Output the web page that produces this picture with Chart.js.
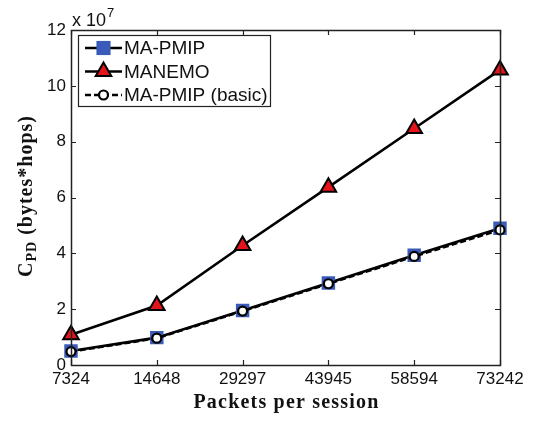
<!DOCTYPE html>
<html>
<head>
<meta charset="utf-8">
<script src="https://cdn.jsdelivr.net/npm/chart.js@4"></script>
<style>
html,body{margin:0;padding:0;background:#fff;}
#wrap{width:535px;height:421px;position:relative;}
</style>
</head>
<body>
<div id="wrap"><canvas id="c" width="535" height="421"></canvas></div>
<script>
// ---- data (values in units of 10^7) ----
const categories = ['7324', '14648', '29297', '43945', '58594', '73242'];
const maPmip      = [0.50, 0.98, 1.95, 2.94, 3.93, 4.90];
const manemo      = [1.08, 2.13, 4.28, 6.37, 8.47, 10.57];
const maPmipBasic = [0.48, 0.96, 1.93, 2.91, 3.89, 4.84];
const yTicks = [0, 2, 4, 6, 8, 10, 12];
const seriesNames = ['MA-PMIP', 'MANEMO', 'MA-PMIP (basic)'];
const xTitle = 'Packets per session';
const exponentBase = 'x 10';
const exponentPow = '7';

const SANS = 'Arial, "Liberation Sans", Helvetica, sans-serif';
const SERIF = '"Liberation Serif", "Times New Roman", serif';

const framePlugin = {
  id: 'frame',
  afterDatasetsDraw(chart) {
    const ctx = chart.ctx, a = chart.chartArea;
    const xs = chart.scales.x, ys = chart.scales.y;
    ctx.save();
    ctx.strokeStyle = '#222';
    ctx.lineWidth = 1.2;
    // ticks inward on all 4 sides
    ctx.beginPath();
    xs.ticks.forEach((t, i) => {
      const px = Math.round(xs.getPixelForTick(i)) + 0.5;
      ctx.moveTo(px, a.bottom); ctx.lineTo(px, a.bottom - 5);
      ctx.moveTo(px, a.top); ctx.lineTo(px, a.top + 5);
    });
    ys.ticks.forEach((t, i) => {
      const py = Math.round(ys.getPixelForTick(i)) + 0.5;
      ctx.moveTo(a.left, py); ctx.lineTo(a.left + 5, py);
      ctx.moveTo(a.right, py); ctx.lineTo(a.right - 5, py);
    });
    ctx.stroke();
    ctx.lineWidth = 1.5;
    ctx.strokeRect(Math.round(a.left) + 0.5, Math.round(a.top) + 0.5,
                   Math.round(a.right - a.left), Math.round(a.bottom - a.top));

    // exponent label
    ctx.fillStyle = '#111';
    ctx.textBaseline = 'alphabetic';
    ctx.textAlign = 'left';
    ctx.font = '18px ' + SANS;
    ctx.fillText(exponentBase, a.left + 1, a.top - 4);
    const w = ctx.measureText(exponentBase).width;
    ctx.font = '13px ' + SANS;
    ctx.fillText(exponentPow, a.left + 2 + w, a.top - 13);

    // x title
    ctx.font = 'bold 20px ' + SERIF;
    ctx.letterSpacing = '1.2px';
    ctx.textAlign = 'center';
    ctx.textBaseline = 'middle';
    ctx.fillText(xTitle, (a.left + a.right) / 2 + 1, 403);

    // y title with subscript
    ctx.save();
    ctx.translate(25, 196);
    ctx.rotate(-Math.PI / 2);
    ctx.letterSpacing = '1px';
    const partC = 'C', partSub = 'PD', partRest = ' (bytes*hops)';
    ctx.font = 'bold 20px ' + SERIF;
    const wC = ctx.measureText(partC).width;
    const wR = ctx.measureText(partRest).width;
    ctx.font = 'bold 14px ' + SERIF;
    const wS = ctx.measureText(partSub).width;
    let x0 = -(wC + wS + wR) / 2;
    ctx.textAlign = 'left';
    ctx.textBaseline = 'alphabetic';
    ctx.font = 'bold 20px ' + SERIF;
    ctx.fillText(partC, x0, 7);
    ctx.font = 'bold 14px ' + SERIF;
    ctx.fillText(partSub, x0 + wC, 11);
    ctx.font = 'bold 20px ' + SERIF;
    ctx.fillText(partRest, x0 + wC + wS, 7);
    ctx.restore();

    // legend
    const lx = 78, ly = 35, lw = 192, lh = 71;
    ctx.letterSpacing = '0px';
    ctx.fillStyle = '#fff';
    ctx.fillRect(lx, ly, lw, lh);
    ctx.lineWidth = 1.2;
    ctx.strokeStyle = '#222';
    ctx.strokeRect(lx + 0.5, ly + 0.5, lw, lh);
    chart.data.datasets.forEach((ds, i) => {
      const yy = ly + 13 + i * 23.5;
      ctx.save();
      ctx.strokeStyle = ds.borderColor;
      ctx.lineWidth = ds.borderWidth;
      ctx.setLineDash(ds.borderDash || []);
      ctx.beginPath();
      ctx.moveTo(85, yy); ctx.lineTo(122, yy);
      ctx.stroke();
      ctx.setLineDash([]);
      ctx.fillStyle = ds.pointBackgroundColor;
      ctx.strokeStyle = ds.pointBorderColor;
      ctx.lineWidth = ds.pointBorderWidth;
      Chart.helpers.drawPoint(ctx, {
        pointStyle: ds.pointStyle, rotation: 0,
        radius: ds.legendRadius, borderWidth: ds.pointBorderWidth
      }, 103.5, yy);
      ctx.restore();
      ctx.fillStyle = '#111';
      ctx.font = '19px ' + SANS;
      ctx.textAlign = 'left';
      ctx.textBaseline = 'middle';
      ctx.fillText(ds.label, 124, yy + 1);
    });
    ctx.restore();
  }
};

new Chart(document.getElementById('c'), {
  type: 'line',
  data: {
    labels: categories,
    datasets: [
      {
        label: seriesNames[0], data: maPmip,
        borderColor: '#000', borderWidth: 2.6,
        pointStyle: 'rect', pointRadius: 9.5, legendRadius: 10,
        pointBackgroundColor: '#3a5bb8', pointBorderColor: '#3a5bb8', pointBorderWidth: 0,
        tension: 0, order: 3
      },
      {
        label: seriesNames[1], data: manemo,
        borderColor: '#000', borderWidth: 2.6,
        pointStyle: 'triangle', pointRadius: 9, legendRadius: 9,
        pointBackgroundColor: '#e3141b', pointBorderColor: '#000', pointBorderWidth: 2,
        tension: 0, order: 1
      },
      {
        label: seriesNames[2], data: maPmipBasic,
        borderColor: '#000', borderWidth: 2.6, borderDash: [6, 3],
        pointStyle: 'circle', pointRadius: 4.5, legendRadius: 4.5,
        pointBackgroundColor: '#fff', pointBorderColor: '#000', pointBorderWidth: 2.2,
        tension: 0, order: 2
      }
    ]
  },
  options: {
    responsive: false,
    animation: false,
    devicePixelRatio: 1,
    layout: { padding: { left: 0, right: 35, top: 30, bottom: 0 } },
    plugins: { legend: { display: false }, tooltip: { enabled: false } },
    elements: { point: { hoverRadius: 0 } },
    scales: {
      x: {
        type: 'category',
        offset: false,
        grid: { display: false, drawTicks: false },
        border: { display: false },
        ticks: { color: '#111', font: { size: 17, family: SANS }, padding: 4, maxRotation: 0, autoSkip: false },
        afterFit(s) { s.height = 56; }
      },
      y: {
        min: 0, max: 12,
        afterBuildTicks(s) { s.ticks = yTicks.map(v => ({ value: v })); },
        grid: { display: false, drawTicks: false },
        border: { display: false },
        ticks: { color: '#111', font: { size: 17, family: SANS }, padding: 5 },
        afterFit(s) { s.width = 71; }
      }
    }
  },
  plugins: [framePlugin]
});
</script>
</body>
</html>
